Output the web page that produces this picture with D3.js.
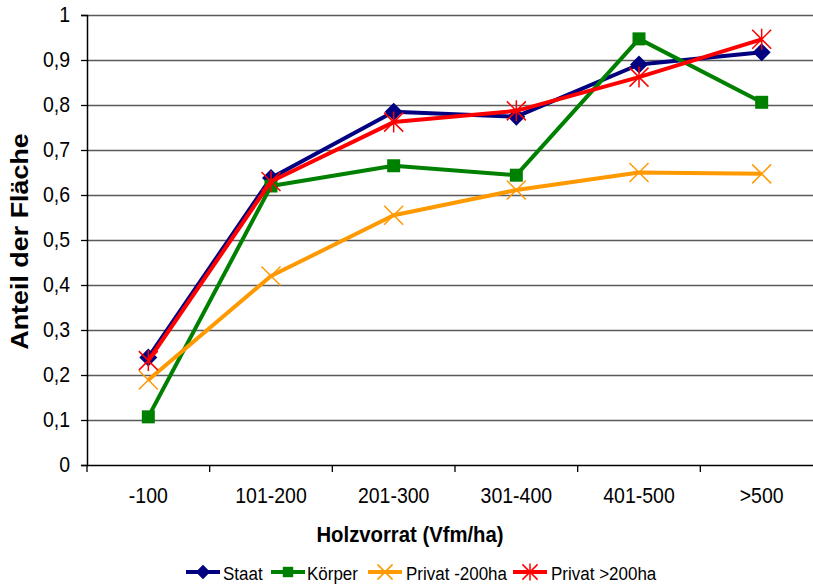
<!DOCTYPE html>
<html>
<head>
<meta charset="utf-8">
<script src="https://cdn.jsdelivr.net/npm/d3@7"></script>
<style>
  body { margin: 0; background: #fff; }
  svg { display: block; font-family: "Liberation Sans", Arial, sans-serif; }
</style>
</head>
<body>
<svg id="chart" width="813" height="584"></svg>
<script>
// Holzvorrat classes and share of area per ownership type
const categories = ["-100", "101-200", "201-300", "301-400", "401-500", ">500"];
const staat      = [0.239, 0.638, 0.785, 0.774, 0.890, 0.917];
const koerper    = [0.107, 0.620, 0.665, 0.644, 0.947, 0.806];
const privatKlein = [0.189, 0.420, 0.555, 0.611, 0.650, 0.647];
const privatGross = [0.232, 0.630, 0.762, 0.787, 0.862, 0.946];
const yTicks = [0, 0.1, 0.2, 0.3, 0.4, 0.5, 0.6, 0.7, 0.8, 0.9, 1];

const series = [
  { name: "Staat",          values: staat,       color: "#000080", marker: "diamond" },
  { name: "Körper",         values: koerper,     color: "#008000", marker: "square" },
  { name: "Privat -200ha",  values: privatKlein, color: "#FF9900", marker: "x" },
  { name: "Privat >200ha",  values: privatGross, color: "#FF0000", marker: "star" }
];

const svg = d3.select("#chart");
const plotLeft = 87, plotRight = 823, plotTop = 15, plotBottom = 465;
const stretch = 1.1; // the lettering is set slightly taller than wide

const x = d3.scaleBand().domain(categories).range([plotLeft, plotRight]);
const y = d3.scaleLinear().domain([0, 1]).range([plotBottom, plotTop]);

// horizontal grid lines
svg.append("g").selectAll("line").data(yTicks.filter(d => d > 0)).join("line")
  .attr("x1", plotLeft).attr("x2", plotRight)
  .attr("y1", d => Math.round(y(d)) + 0.5).attr("y2", d => Math.round(y(d)) + 0.5)
  .attr("stroke", "#5a5a5a").attr("stroke-width", 1.3);

// y axis
const fmt = d => d === 0 ? "0" : d === 1 ? "1" : d3.format(".1f")(d).replace(".", ",");
const yAxis = svg.append("g").attr("transform", `translate(${plotLeft},0)`)
  .call(d3.axisLeft(y).tickValues(yTicks).tickFormat(fmt).tickSize(6).tickPadding(11));
yAxis.select(".domain").attr("stroke", "#000").attr("stroke-width", 1.5);
yAxis.selectAll(".tick line").attr("stroke", "#000").attr("stroke-width", 1.3);
yAxis.selectAll(".tick text").attr("font-size", 19.5).attr("fill", "#000")
  .attr("font-family", "Liberation Sans, Arial, sans-serif")
  .attr("transform", `scale(1,${stretch})`).attr("dy", "0.32em");

// x axis with ticks at category boundaries
const xAxisG = svg.append("g").attr("transform", `translate(0,${plotBottom})`);
xAxisG.append("line").attr("x1", plotLeft).attr("x2", plotRight).attr("y1", 0.5).attr("y2", 0.5)
  .attr("stroke", "#000").attr("stroke-width", 1.5);
xAxisG.selectAll("line.tk").data(categories).join("line").attr("class", "tk")
  .attr("x1", d => x(d)).attr("x2", d => x(d)).attr("y1", 0).attr("y2", 7)
  .attr("stroke", "#000").attr("stroke-width", 1.3);
xAxisG.selectAll("text").data(categories).join("text")
  .attr("transform", d => `translate(${x(d) + x.bandwidth() / 2},38) scale(1,${stretch})`)
  .attr("text-anchor", "middle").attr("font-size", 19.5).attr("fill", "#000")
  .text(d => d);

// axis titles
svg.append("text").attr("transform", "translate(410,542) scale(1,1.05)").attr("text-anchor", "middle")
  .attr("font-size", 20.3).attr("font-weight", "bold").text("Holzvorrat (Vfm/ha)");
svg.append("text").attr("transform", "translate(27.5,241.5) rotate(-90) scale(1.12,1)")
  .attr("text-anchor", "middle").attr("font-size", 24).attr("font-weight", "bold")
  .text("Anteil der Fläche");

// marker drawing
function drawMarker(g, type, color, cx, cy, scale) {
  const s = scale || 1;
  if (type === "diamond") {
    const r = 9 * s;
    g.append("path").attr("d", `M${cx},${cy - r}L${cx + r},${cy}L${cx},${cy + r}L${cx - r},${cy}Z`)
      .attr("fill", color);
  } else if (type === "square") {
    const h = 6.5 * s;
    g.append("rect").attr("x", cx - h).attr("y", cy - h).attr("width", 2 * h).attr("height", 2 * h)
      .attr("fill", color);
  } else if (type === "x") {
    const h = 9.5 * s;
    g.append("path").attr("d", `M${cx - h},${cy - h}L${cx + h},${cy + h}M${cx - h},${cy + h}L${cx + h},${cy - h}`)
      .attr("stroke", color).attr("stroke-width", 1.5);
  } else if (type === "star") {
    const h = 9.5 * s, v = 10.5 * s;
    g.append("path").attr("d", `M${cx - h},${cy - h}L${cx + h},${cy + h}M${cx - h},${cy + h}L${cx + h},${cy - h}M${cx},${cy - v}L${cx},${cy + v}`)
      .attr("stroke", color).attr("stroke-width", 1.5);
  }
}

const cxOf = d => x(d) + x.bandwidth() / 2;
const line = d3.line().x(d => cxOf(d.cat)).y(d => y(d.v));

series.forEach(s => {
  const pts = categories.map((c, i) => ({ cat: c, v: s.values[i] }));
  const g = svg.append("g");
  g.append("path").datum(pts).attr("d", line)
    .attr("fill", "none").attr("stroke", s.color).attr("stroke-width", 4)
    .attr("stroke-linejoin", "round");
  pts.forEach(p => drawMarker(g, s.marker, s.color, cxOf(p.cat), y(p.v)));
});

// legend
const legendItems = [
  { x0: 186, tx: 223 },
  { x0: 271, tx: 307 },
  { x0: 368, tx: 406 },
  { x0: 513, tx: 551 }
];
const ly = 572;
series.forEach((s, i) => {
  const li = legendItems[i];
  const g = svg.append("g");
  g.append("line").attr("x1", li.x0).attr("x2", li.x0 + 34).attr("y1", ly).attr("y2", ly)
    .attr("stroke", s.color).attr("stroke-width", 4);
  drawMarker(g, s.marker, s.color, li.x0 + 17, ly, 0.8);
  g.append("text").attr("transform", `translate(${li.tx},580) scale(1,1.12)`)
    .attr("font-size", 17).attr("fill", "#000")
    .text(s.name);
});
</script>
</body>
</html>
